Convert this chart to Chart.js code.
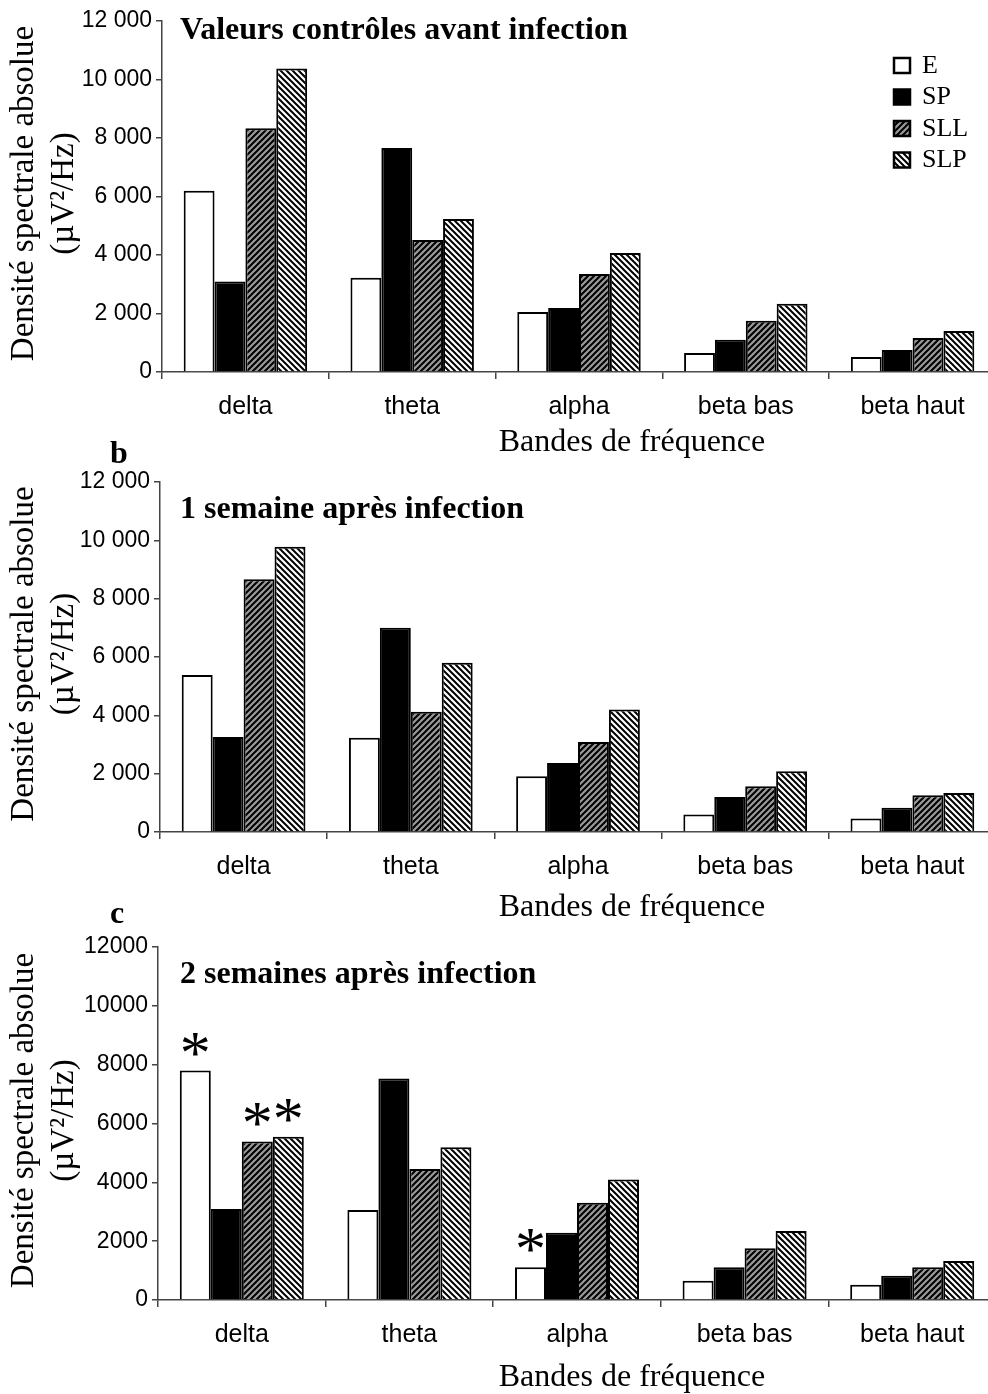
<!DOCTYPE html>
<html>
<head>
<meta charset="utf-8">
<script src="https://cdn.jsdelivr.net/npm/chart.js@4.4.1/dist/chart.umd.min.js"></script>
<style>
    html, body { margin: 0; padding: 0; background: #fff; overflow: hidden; }
    #page { position: relative; width: 988px; height: 1394px; overflow: hidden; }
    .panel { position: absolute; left: 0; width: 996px; }
</style>
</head>
<body>
<div id="page">
    <div class="panel" style="top:0;height:460px"><canvas id="chartA"></canvas></div>
    <div class="panel" style="top:425px;height:500px"><canvas id="chartB"></canvas></div>
    <div class="panel" style="top:890px;height:504px"><canvas id="chartC"></canvas></div>
</div>
<script>
// Frequency bands and groups
const bands = ['delta', 'theta', 'alpha', 'beta bas', 'beta haut'];
const groups = ['E', 'SP', 'SLL', 'SLP'];
const yTickValues = [0, 2000, 4000, 6000, 8000, 10000, 12000];

// Control values before infection
const ctrlE = [6200, 3220, 2050, 650, 510];
const ctrlSP = [3090, 7660, 2190, 1100, 750];
const ctrlSLL = [8330, 4510, 3350, 1750, 1160];
const ctrlSLP = [10380, 5230, 4070, 2330, 1400];

// 1 week after infection
const wk1E = [5380, 3230, 1910, 600, 460];
const wk1SP = [3260, 7000, 2370, 1200, 835];
const wk1SLL = [8670, 4120, 3090, 1570, 1260];
const wk1SLP = [9780, 5800, 4200, 2080, 1340];

// 2 weeks after infection
const wk2E = [7800, 3060, 1110, 655, 520];
const wk2SP = [3090, 7530, 2290, 1110, 825];
const wk2SLL = [5390, 4450, 3310, 1755, 1110];
const wk2SLP = [5550, 5190, 4100, 2345, 1330];

// Significant differences: [band index, group index]
const wk2Stars = [[0, 0], [0, 2], [0, 3], [2, 0]];

const serif = '"Liberation Serif", "Times New Roman", serif';
Chart.defaults.font.family = '"Liberation Sans", Arial, sans-serif';
Chart.defaults.color = '#000';

// Hatch fills
function hatch(bg, dir) {
    const c = document.createElement('canvas');
    c.width = 6; c.height = 6;
    const g = c.getContext('2d');
    g.fillStyle = bg;
    g.fillRect(0, 0, 6, 6);
    g.strokeStyle = '#000';
    g.lineWidth = 2;
    g.beginPath();
    for (let k = -6; k <= 6; k += 6) {
        if (dir === '/') { g.moveTo(k - 1, 7); g.lineTo(k + 7, -1); }
        else { g.moveTo(k - 1, -1); g.lineTo(k + 7, 7); }
    }
    g.stroke();
    return g.createPattern(c, 'repeat');
}
const fills = ['#ffffff', '#000000', hatch('#9a9a9a', '/'), hatch('#ffffff', '\\')];

function spaced(v) {
    return v.toString().replace(/\B(?=(\d{3})+(?!\d))/g, ' ');
}

// Titles, axis titles, legend and asterisks
function panelText(cfg) {
    return {
        id: 'panelText',
        afterDraw(chart) {
            const ctx = chart.ctx;
            const a = chart.chartArea;
            ctx.save();
            ctx.fillStyle = '#000';

            // y-axis title, two rotated lines
            const cy = (a.top + a.bottom) / 2 - 3;
            ctx.font = '33px ' + serif;
            ctx.textAlign = 'center';
            ctx.textBaseline = 'middle';
            ctx.save();
            ctx.translate(24, cy);
            ctx.rotate(-Math.PI / 2);
            ctx.fillText('Densité spectrale absolue', 0, 0);
            ctx.restore();
            ctx.save();
            ctx.translate(64, cy);
            ctx.rotate(-Math.PI / 2);
            ctx.fillText('(µV²/Hz)', 0, 0);
            ctx.restore();

            // x-axis title
            ctx.font = '32px ' + serif;
            ctx.fillText('Bandes de fréquence', 632, a.bottom + cfg.xTitle);

            // chart title
            ctx.font = 'bold 32px ' + serif;
            ctx.textAlign = 'left';
            ctx.textBaseline = 'alphabetic';
            ctx.fillText(cfg.title, 180, cfg.titleY);

            if (cfg.letter) ctx.fillText(cfg.letter, 110, cfg.letterY);

            // legend
            if (cfg.legend) {
                ctx.font = '26px ' + serif;
                ctx.textBaseline = 'middle';
                groups.forEach((name, i) => {
                    const y = 65 + i * 31.5;
                    ctx.fillStyle = fills[i];
                    ctx.fillRect(894, y - 7, 16, 15);
                    ctx.strokeStyle = '#000';
                    ctx.lineWidth = 2.5;
                    ctx.strokeRect(894, y - 7, 16, 15);
                    ctx.fillStyle = '#000';
                    ctx.fillText(name, 922, y + 1);
                });
            }

            // asterisks above significant bars
            if (cfg.stars) {
                ctx.font = '62px ' + serif;
                ctx.textAlign = 'center';
                ctx.textBaseline = 'alphabetic';
                cfg.stars.forEach(([b, g]) => {
                    const bar = chart.getDatasetMeta(g).data[b];
                    ctx.fillText('*', bar.x, bar.y + 2);
                });
            }
            ctx.restore();
        }
    };
}

function makeChart(id, series, cfg) {
    const ctx = document.getElementById(id).getContext('2d');
    return new Chart(ctx, {
        type: 'bar',
        data: {
            labels: bands,
            datasets: groups.map((name, i) => ({
                label: name,
                data: series[i],
                backgroundColor: fills[i],
                borderColor: '#000',
                borderWidth: 2,
                categoryPercentage: 0.74,
                barPercentage: 1.0
            }))
        },
        options: {
            responsive: true,
            maintainAspectRatio: false,
            animation: false,
            layout: { padding: { top: cfg.top, left: 0, right: 0, bottom: 0 } },
            plugins: {
                legend: { display: false },
                tooltip: { enabled: false }
            },
            scales: {
                x: {
                    afterFit: s => { s.height = cfg.xHeight; },
                    grid: { drawOnChartArea: false, drawTicks: true, tickLength: 7, color: '#444', lineWidth: 1.5 },
                    border: { color: '#444', width: 1.5 },
                    ticks: { font: { size: 25 }, padding: 13, maxRotation: 0 }
                },
                y: {
                    min: 0,
                    max: 12000,
                    afterFit: s => { s.width = cfg.yWidth; },
                    afterBuildTicks: s => { s.ticks = yTickValues.map(v => ({ value: v })); },
                    grid: { drawOnChartArea: false, drawTicks: true, tickLength: 6, color: '#444', lineWidth: 1.5 },
                    border: { color: '#444', width: 1.5 },
                    ticks: { font: { size: 23 }, padding: 4, callback: cfg.fmt }
                }
            }
        },
        plugins: [panelText(cfg)]
    });
}

makeChart('chartA', [ctrlE, ctrlSP, ctrlSLL, ctrlSLP], {
    top: 21, yWidth: 162, xHeight: 88, xTitle: 71,
    fmt: v => spaced(v),
    title: 'Valeurs contrôles avant infection', titleY: 39,
    legend: true
});

makeChart('chartB', [wk1E, wk1SP, wk1SLL, wk1SLP], {
    top: 57, yWidth: 160, xHeight: 93, xTitle: 76,
    fmt: v => spaced(v),
    title: '1 semaine après infection', titleY: 93,
    letter: 'b', letterY: 38
});

makeChart('chartC', [wk2E, wk2SP, wk2SLL, wk2SLP], {
    top: 57, yWidth: 158, xHeight: 94, xTitle: 78,
    fmt: v => String(v),
    title: '2 semaines après infection', titleY: 93,
    letter: 'c', letterY: 33,
    stars: wk2Stars
});
</script>
</body>
</html>
